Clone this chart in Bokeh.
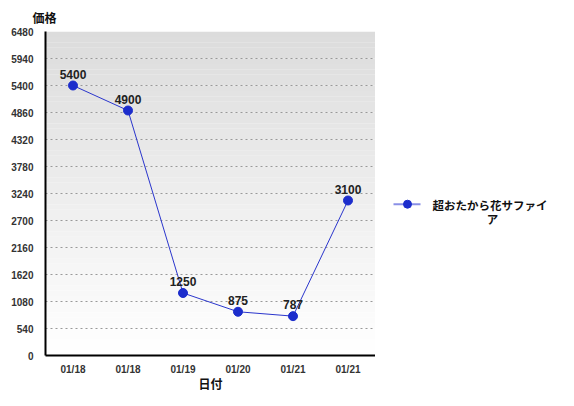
from bokeh.plotting import figure
from bokeh.layouts import row
from bokeh.models import FixedTicker, BoxAnnotation, ColumnDataSource, Range1d
from bokeh.core.properties import value
from bokeh.embed import file_html
from bokeh.resources import INLINE

dates = ["01/18", "01/18", "01/19", "01/20", "01/21", "01/21"]
prices = [5400, 4900, 1250, 875, 787, 3100]
y_ticks = [0, 540, 1080, 1620, 2160, 2700, 3240, 3780, 4320, 4860, 5400, 5940, 6480]
series_name = ["超おたから花サファイ", "ア"]
y_title = "価格"
x_title = "日付"

LAT = "Liberation Sans"
JP = "Noto Sans CJK JP"
H = 394

xs = list(range(len(dates)))
ymax = y_ticks[-1]

p = figure(output_backend="svg", toolbar_location=None,
           width=375, height=H,
           x_range=Range1d(-0.5, len(dates) - 0.5), y_range=Range1d(0, ymax),
           min_border_left=45, min_border_top=30, min_border_bottom=34, min_border_right=0,
           title=y_title)

p.title.text_font = JP
p.title.text_font_size = "12px"
p.title.text_font_style = "bold"
p.title.align = "left"
p.title.offset = -13
p.title.standoff = 12
p.title.text_color = "#111111"

# gradient background bands
n = 60
for i in range(n):
    t = i / (n - 1)
    c = int(round(255 - (255 - 220) * t))
    p.add_layout(BoxAnnotation(bottom=ymax * i / n, top=ymax * (i + 1) / n,
                               fill_color=(c, c, c), fill_alpha=1.0, line_alpha=0, level="image"))

p.outline_line_color = None
p.background_fill_color = "white"
p.xgrid.visible = False
p.ygrid.ticker = FixedTicker(ticks=y_ticks)
p.ygrid.grid_line_color = "#999999"
p.ygrid.grid_line_dash = "2 3"
p.ygrid.grid_line_width = 1.2
p.ygrid.level = "underlay"

p.yaxis.ticker = FixedTicker(ticks=y_ticks)
p.xaxis.ticker = FixedTicker(ticks=xs)
p.xaxis.major_label_overrides = {i: d for i, d in enumerate(dates)}
for ax in (p.xaxis, p.yaxis):
    ax.axis_line_color = "black"
    ax.axis_line_width = 2
    ax.major_tick_line_color = None
    ax.minor_tick_line_color = None
    ax.major_label_text_font = LAT
    ax.major_label_text_font_style = "bold"
    ax.major_label_text_font_size = "10px"
    ax.major_label_text_color = "#333333"
p.yaxis.major_label_standoff = 6
p.xaxis.major_label_standoff = 2
p.xaxis.axis_label = x_title
p.xaxis.axis_label_text_font = JP
p.xaxis.axis_label_text_font_size = "12px"
p.xaxis.axis_label_text_font_style = "bold"
p.xaxis.axis_label_text_color = "#111111"
p.xaxis.axis_label_standoff = -3

src = ColumnDataSource(dict(x=xs, y=prices, lab=[str(v) for v in prices]))
p.line("x", "y", source=src, line_color="#2a35cc", line_width=1)
p.scatter("x", "y", source=src, size=9, fill_color="#1c2dcc", line_color="#1c2dcc")
p.text("x", "y", text="lab", source=src, text_align="center", text_baseline="bottom",
       y_offset=-7, text_font_size="12px", text_font_style="bold", text_color="#222222",
       text_font=value(LAT))

# legend panel (pixel coordinates, y downward)
q = figure(output_backend="svg", toolbar_location=None, width=183, height=H,
           x_range=Range1d(0, 183), y_range=Range1d(H, 0),
           min_border=0, x_axis_type=None, y_axis_type=None)
q.grid.visible = False
q.outline_line_color = None
q.line([18, 45], [210, 210], line_color="#8a90e6", line_width=2)
q.scatter([32], [210], size=8, fill_color="#1c2dcc", line_color="#1c2dcc")
q.text([57], [211], text=[series_name[0]], text_align="left", text_baseline="middle",
       text_font=value(JP), text_font_size="11.5px", text_font_style="bold", text_color="#111111")
q.text([117], [228], text=[series_name[1]], text_align="center", text_baseline="middle",
       text_font=value(JP), text_font_size="11.5px", text_font_style="bold", text_color="#111111")

layout = row(p, q, spacing=0)
open("out.html", "w").write(file_html(layout, INLINE))
